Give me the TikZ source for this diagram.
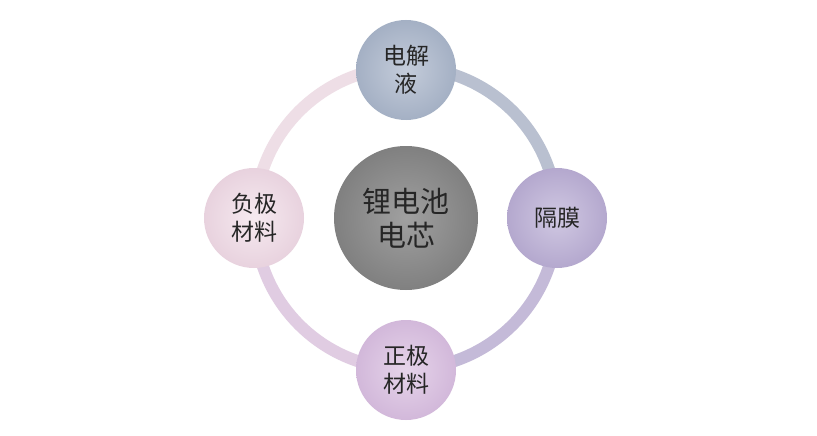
\documentclass[tikz,border=0pt]{standalone}
\usepackage{fontspec}
\newfontfamily\cjk{Noto Sans CJK SC}
\begin{document}
\begin{tikzpicture}[x=1pt,y=-1pt,
  small/.style={circle,minimum size=100pt,inner sep=0pt,align=center,font=\cjk\fontsize{23}{28}\selectfont,text=black!85},
  ringarc/.style={line width=12pt}]
\useasboundingbox[fill=white] (0,0) rectangle (817,436);
\coordinate (c) at (406,218);
\draw[ringarc,color={rgb,255:red,185;green,192;blue,208}] (406,67) arc[start angle=-90,end angle=0,radius=151];
\draw[ringarc,color={rgb,255:red,196;green,186;blue,216}] (557,218) arc[start angle=0,end angle=90,radius=151];
\draw[ringarc,color={rgb,255:red,224;green,204;blue,226}] (406,369) arc[start angle=90,end angle=180,radius=151];
\draw[ringarc,color={rgb,255:red,238;green,222;blue,230}] (255,218) arc[start angle=180,end angle=270,radius=151];
\node[small,inner color={rgb,255:red,196;green,204;blue,218},outer color={rgb,255:red,164;green,176;blue,196}] (top) at (406,70) {电解\\液};
\node[small,inner color={rgb,255:red,208;green,200;blue,226},outer color={rgb,255:red,180;green,168;blue,206}] (right) at (557,218) {隔膜};
\node[small,inner color={rgb,255:red,230;green,212;blue,234},outer color={rgb,255:red,210;green,184;blue,218}] (bottom) at (406,370) {正极\\材料};
\node[small,inner color={rgb,255:red,246;green,234;blue,240},outer color={rgb,255:red,232;green,210;blue,222}] (left) at (254,218) {负极\\材料};
\node[circle,minimum size=144pt,inner sep=0pt,align=center,inner color={rgb,255:red,160;green,160;blue,160},outer color={rgb,255:red,128;green,128;blue,128},font=\cjk\fontsize{29}{34}\selectfont,text=black!85] (core) at (c) {锂电池\\电芯};
\end{tikzpicture}
\end{document}
